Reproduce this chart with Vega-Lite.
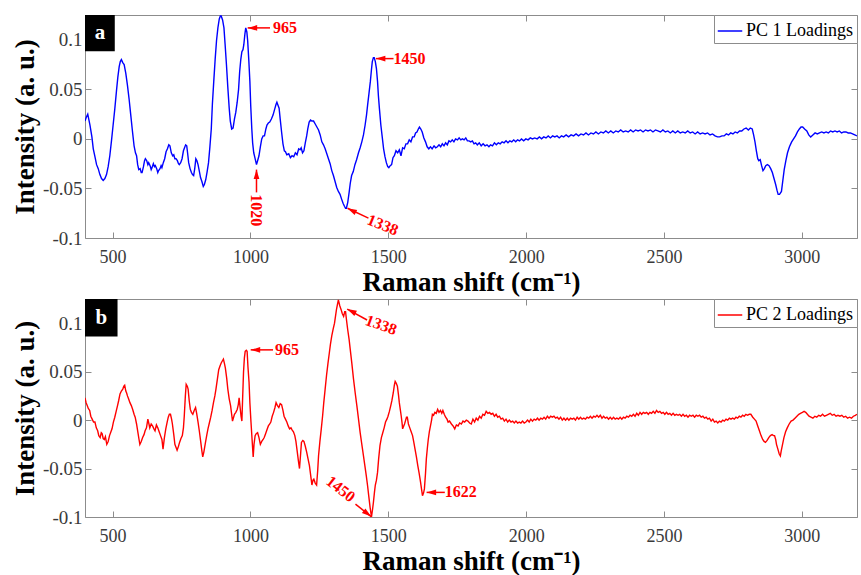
{
"$schema":"https://vega.github.io/schema/vega-lite/v6.json",
"background":"white",
"padding":{"left":10,"top":14,"right":1,"bottom":0},
"spacing":2,
"datasets":{
"pc1":[{"x":400,"y":0.018},{"x":405,"y":0.022},{"x":410,"y":0.025},{"x":418,"y":0.014},{"x":425,"y":0.002},{"x":430,"y":-0.01},{"x":436,"y":-0.018},{"x":442,"y":-0.026},{"x":448,"y":-0.03},{"x":454,"y":-0.036},{"x":460,"y":-0.04},{"x":466,"y":-0.042},{"x":472,"y":-0.04},{"x":478,"y":-0.036},{"x":484,"y":-0.028},{"x":490,"y":-0.017},{"x":496,"y":-0.002},{"x":502,"y":0.014},{"x":508,"y":0.03},{"x":514,"y":0.048},{"x":519,"y":0.062},{"x":524,"y":0.073},{"x":528,"y":0.078},{"x":532,"y":0.08},{"x":537,"y":0.077},{"x":542,"y":0.075},{"x":548,"y":0.066},{"x":554,"y":0.054},{"x":560,"y":0.04},{"x":566,"y":0.024},{"x":572,"y":0.008},{"x":578,"y":-0.007},{"x":583,"y":-0.014},{"x":587,"y":-0.017},{"x":591,"y":-0.026},{"x":595,"y":-0.031},{"x":600,"y":-0.03},{"x":604,"y":-0.034},{"x":607,"y":-0.034},{"x":612,"y":-0.028},{"x":616,"y":-0.022},{"x":619,"y":-0.02},{"x":624,"y":-0.022},{"x":628,"y":-0.026},{"x":631,"y":-0.024},{"x":636,"y":-0.027},{"x":640,"y":-0.031},{"x":643,"y":-0.029},{"x":648,"y":-0.025},{"x":652,"y":-0.028},{"x":655,"y":-0.027},{"x":660,"y":-0.03},{"x":664,"y":-0.034},{"x":667,"y":-0.032},{"x":672,"y":-0.03},{"x":676,"y":-0.027},{"x":679,"y":-0.029},{"x":684,"y":-0.024},{"x":689,"y":-0.02},{"x":694,"y":-0.013},{"x":699,"y":-0.01},{"x":704,"y":-0.006},{"x":708,"y":-0.007},{"x":713,"y":-0.014},{"x":718,"y":-0.017},{"x":722,"y":-0.016},{"x":726,"y":-0.02},{"x":730,"y":-0.02},{"x":735,"y":-0.022},{"x":739,"y":-0.025},{"x":742,"y":-0.026},{"x":747,"y":-0.024},{"x":752,"y":-0.02},{"x":757,"y":-0.012},{"x":761,"y":-0.009},{"x":765,"y":-0.006},{"x":769,"y":-0.007},{"x":772,"y":-0.014},{"x":776,"y":-0.024},{"x":781,"y":-0.03},{"x":786,"y":-0.034},{"x":790,"y":-0.036},{"x":794,"y":-0.037},{"x":798,"y":-0.03},{"x":802,"y":-0.02},{"x":806,"y":-0.022},{"x":810,"y":-0.026},{"x":815,"y":-0.033},{"x":819,"y":-0.039},{"x":824,"y":-0.043},{"x":829,"y":-0.048},{"x":833,"y":-0.046},{"x":838,"y":-0.041},{"x":843,"y":-0.033},{"x":848,"y":-0.024},{"x":853,"y":-0.008},{"x":858,"y":0.01},{"x":862,"y":0.035},{"x":867,"y":0.058},{"x":872,"y":0.08},{"x":877,"y":0.099},{"x":882,"y":0.112},{"x":887,"y":0.121},{"x":891,"y":0.124},{"x":894,"y":0.124},{"x":899,"y":0.12},{"x":904,"y":0.112},{"x":908,"y":0.096},{"x":913,"y":0.075},{"x":918,"y":0.052},{"x":923,"y":0.031},{"x":927,"y":0.018},{"x":932,"y":0.01},{"x":937,"y":0.011},{"x":942,"y":0.02},{"x":947,"y":0.027},{"x":952,"y":0.037},{"x":957,"y":0.05},{"x":961,"y":0.068},{"x":965,"y":0.08},{"x":969,"y":0.088},{"x":973,"y":0.09},{"x":976,"y":0.095},{"x":980,"y":0.106},{"x":983,"y":0.112},{"x":987,"y":0.108},{"x":990,"y":0.099},{"x":994,"y":0.08},{"x":998,"y":0.058},{"x":1001,"y":0.034},{"x":1005,"y":0.01},{"x":1008,"y":-0.004},{"x":1012,"y":-0.014},{"x":1017,"y":-0.02},{"x":1022,"y":-0.026},{"x":1026,"y":-0.022},{"x":1031,"y":-0.017},{"x":1036,"y":-0.008},{"x":1041,"y":0},{"x":1046,"y":0.003},{"x":1051,"y":0.003},{"x":1056,"y":0.01},{"x":1060,"y":0.014},{"x":1065,"y":0.016},{"x":1070,"y":0.017},{"x":1076,"y":0.02},{"x":1082,"y":0.024},{"x":1088,"y":0.03},{"x":1093,"y":0.035},{"x":1096,"y":0.037},{"x":1100,"y":0.034},{"x":1104,"y":0.031},{"x":1108,"y":0.02},{"x":1113,"y":0.007},{"x":1118,"y":-0.005},{"x":1123,"y":-0.012},{"x":1127,"y":-0.013},{"x":1132,"y":-0.016},{"x":1139,"y":-0.015},{"x":1145,"y":-0.019},{"x":1151,"y":-0.017},{"x":1157,"y":-0.018},{"x":1163,"y":-0.014},{"x":1169,"y":-0.016},{"x":1175,"y":-0.01},{"x":1180,"y":-0.011},{"x":1184,"y":-0.009},{"x":1189,"y":-0.014},{"x":1194,"y":-0.012},{"x":1199,"y":-0.004},{"x":1204,"y":0.003},{"x":1208,"y":0.01},{"x":1213,"y":0.017},{"x":1218,"y":0.019},{"x":1223,"y":0.018},{"x":1229,"y":0.018},{"x":1235,"y":0.015},{"x":1241,"y":0.012},{"x":1247,"y":0.009},{"x":1253,"y":0.004},{"x":1259,"y":-0.003},{"x":1265,"y":-0.006},{"x":1271,"y":-0.01},{"x":1277,"y":-0.015},{"x":1283,"y":-0.02},{"x":1289,"y":-0.025},{"x":1295,"y":-0.032},{"x":1301,"y":-0.037},{"x":1307,"y":-0.043},{"x":1313,"y":-0.049},{"x":1319,"y":-0.053},{"x":1325,"y":-0.056},{"x":1331,"y":-0.061},{"x":1336,"y":-0.065},{"x":1341,"y":-0.068},{"x":1345,"y":-0.07},{"x":1348,"y":-0.07},{"x":1353,"y":-0.064},{"x":1358,"y":-0.054},{"x":1362,"y":-0.045},{"x":1367,"y":-0.037},{"x":1373,"y":-0.033},{"x":1379,"y":-0.026},{"x":1385,"y":-0.021},{"x":1392,"y":-0.014},{"x":1398,"y":-0.009},{"x":1404,"y":-0.003},{"x":1410,"y":0.004},{"x":1416,"y":0.014},{"x":1421,"y":0.024},{"x":1425,"y":0.034},{"x":1430,"y":0.046},{"x":1435,"y":0.058},{"x":1439,"y":0.07},{"x":1442,"y":0.078},{"x":1446,"y":0.082},{"x":1449,"y":0.082},{"x":1453,"y":0.078},{"x":1457,"y":0.071},{"x":1461,"y":0.058},{"x":1464,"y":0.044},{"x":1468,"y":0.03},{"x":1473,"y":0.014},{"x":1478,"y":0.002},{"x":1483,"y":-0.01},{"x":1488,"y":-0.018},{"x":1493,"y":-0.024},{"x":1498,"y":-0.028},{"x":1502,"y":-0.029},{"x":1507,"y":-0.027},{"x":1512,"y":-0.026},{"x":1517,"y":-0.019},{"x":1522,"y":-0.017},{"x":1528,"y":-0.012},{"x":1534,"y":-0.014},{"x":1540,"y":-0.011},{"x":1546,"y":-0.017},{"x":1552,"y":-0.009},{"x":1558,"y":-0.01},{"x":1564,"y":-0.005},{"x":1570,"y":-0.005},{"x":1576,"y":-0.001},{"x":1582,"y":-0.003},{"x":1588,"y":0.002},{"x":1594,"y":0.002},{"x":1599,"y":0.006},{"x":1604,"y":0.007},{"x":1609,"y":0.01},{"x":1613,"y":0.012},{"x":1618,"y":0.01},{"x":1623,"y":0.007},{"x":1629,"y":0.001},{"x":1635,"y":-0.003},{"x":1641,"y":-0.008},{"x":1647,"y":-0.01},{"x":1653,"y":-0.008},{"x":1659,"y":-0.01},{"x":1666,"y":-0.007},{"x":1672,"y":-0.009},{"x":1678,"y":-0.008},{"x":1684,"y":-0.006},{"x":1690,"y":-0.008},{"x":1696,"y":-0.005},{"x":1702,"y":-0.007},{"x":1708,"y":-0.004},{"x":1714,"y":-0.006},{"x":1720,"y":-0.002},{"x":1726,"y":-0.003},{"x":1732,"y":-0.001},{"x":1738,"y":-0.003},{"x":1744,"y":0},{"x":1751,"y":-0.001},{"x":1757,"y":0.001},{"x":1763,"y":-0.001},{"x":1769,"y":0},{"x":1775,"y":-0.001},{"x":1781,"y":0.001},{"x":1787,"y":-0.002},{"x":1793,"y":-0.002},{"x":1799,"y":-0.003},{"x":1805,"y":-0.002},{"x":1811,"y":-0.005},{"x":1817,"y":-0.004},{"x":1823,"y":-0.006},{"x":1830,"y":-0.004},{"x":1837,"y":-0.007},{"x":1844,"y":-0.005},{"x":1851,"y":-0.007},{"x":1858,"y":-0.006},{"x":1865,"y":-0.008},{"x":1871,"y":-0.006},{"x":1878,"y":-0.007},{"x":1885,"y":-0.004},{"x":1892,"y":-0.006},{"x":1899,"y":-0.004},{"x":1906,"y":-0.005},{"x":1913,"y":-0.003},{"x":1920,"y":-0.004},{"x":1927,"y":-0.002},{"x":1934,"y":-0.004},{"x":1941,"y":-0.002},{"x":1948,"y":-0.003},{"x":1955,"y":-0.001},{"x":1962,"y":-0.003},{"x":1969,"y":-0.001},{"x":1976,"y":-0.002},{"x":1983,"y":0},{"x":1991,"y":-0.002},{"x":1999,"y":0},{"x":2007,"y":-0.001},{"x":2015,"y":0.001},{"x":2023,"y":0},{"x":2031,"y":0.001},{"x":2040,"y":0},{"x":2048,"y":0.002},{"x":2056,"y":0},{"x":2064,"y":0.002},{"x":2072,"y":0.001},{"x":2080,"y":0.003},{"x":2088,"y":0.001},{"x":2096,"y":0.003},{"x":2104,"y":0.002},{"x":2112,"y":0.003},{"x":2120,"y":0.001},{"x":2128,"y":0.003},{"x":2136,"y":0.002},{"x":2145,"y":0.004},{"x":2154,"y":0.002},{"x":2163,"y":0.004},{"x":2172,"y":0.003},{"x":2181,"y":0.005},{"x":2190,"y":0.003},{"x":2199,"y":0.005},{"x":2208,"y":0.004},{"x":2217,"y":0.006},{"x":2226,"y":0.004},{"x":2235,"y":0.006},{"x":2244,"y":0.005},{"x":2253,"y":0.007},{"x":2262,"y":0.005},{"x":2271,"y":0.007},{"x":2280,"y":0.006},{"x":2289,"y":0.008},{"x":2298,"y":0.006},{"x":2307,"y":0.008},{"x":2316,"y":0.006},{"x":2325,"y":0.008},{"x":2334,"y":0.007},{"x":2343,"y":0.009},{"x":2352,"y":0.007},{"x":2361,"y":0.008},{"x":2370,"y":0.007},{"x":2379,"y":0.009},{"x":2388,"y":0.007},{"x":2397,"y":0.009},{"x":2406,"y":0.008},{"x":2415,"y":0.009},{"x":2424,"y":0.007},{"x":2433,"y":0.009},{"x":2442,"y":0.008},{"x":2451,"y":0.009},{"x":2460,"y":0.007},{"x":2469,"y":0.009},{"x":2478,"y":0.008},{"x":2487,"y":0.007},{"x":2496,"y":0.009},{"x":2505,"y":0.007},{"x":2514,"y":0.008},{"x":2523,"y":0.006},{"x":2532,"y":0.008},{"x":2541,"y":0.006},{"x":2550,"y":0.008},{"x":2559,"y":0.006},{"x":2568,"y":0.007},{"x":2577,"y":0.006},{"x":2586,"y":0.008},{"x":2595,"y":0.006},{"x":2604,"y":0.007},{"x":2613,"y":0.005},{"x":2622,"y":0.007},{"x":2631,"y":0.005},{"x":2640,"y":0.006},{"x":2649,"y":0.005},{"x":2658,"y":0.006},{"x":2667,"y":0.004},{"x":2676,"y":0.005},{"x":2685,"y":0.003},{"x":2694,"y":0.002},{"x":2702,"y":0.002},{"x":2710,"y":0.003},{"x":2718,"y":0.003},{"x":2726,"y":0.005},{"x":2734,"y":0.004},{"x":2742,"y":0.006},{"x":2750,"y":0.005},{"x":2758,"y":0.007},{"x":2766,"y":0.006},{"x":2774,"y":0.008},{"x":2782,"y":0.008},{"x":2790,"y":0.01},{"x":2798,"y":0.011},{"x":2806,"y":0.009},{"x":2813,"y":0.011},{"x":2820,"y":0.01},{"x":2825,"y":0.004},{"x":2830,"y":-0.003},{"x":2835,"y":-0.012},{"x":2840,"y":-0.02},{"x":2844,"y":-0.022},{"x":2849,"y":-0.021},{"x":2854,"y":-0.027},{"x":2859,"y":-0.032},{"x":2864,"y":-0.03},{"x":2869,"y":-0.027},{"x":2875,"y":-0.026},{"x":2881,"y":-0.027},{"x":2887,"y":-0.03},{"x":2893,"y":-0.034},{"x":2899,"y":-0.04},{"x":2905,"y":-0.046},{"x":2910,"y":-0.052},{"x":2914,"y":-0.056},{"x":2919,"y":-0.056},{"x":2926,"y":-0.053},{"x":2931,"y":-0.042},{"x":2936,"y":-0.031},{"x":2942,"y":-0.022},{"x":2948,"y":-0.014},{"x":2955,"y":-0.008},{"x":2963,"y":-0.003},{"x":2970,"y":0},{"x":2977,"y":0.003},{"x":2984,"y":0.007},{"x":2991,"y":0.01},{"x":2997,"y":0.012},{"x":3003,"y":0.012},{"x":3010,"y":0.01},{"x":3018,"y":0.008},{"x":3025,"y":0.004},{"x":3032,"y":0.002},{"x":3040,"y":0.004},{"x":3048,"y":0.006},{"x":3056,"y":0.005},{"x":3064,"y":0.006},{"x":3072,"y":0.007},{"x":3080,"y":0.006},{"x":3088,"y":0.007},{"x":3096,"y":0.006},{"x":3104,"y":0.008},{"x":3112,"y":0.007},{"x":3120,"y":0.008},{"x":3128,"y":0.007},{"x":3136,"y":0.008},{"x":3144,"y":0.006},{"x":3152,"y":0.007},{"x":3160,"y":0.007},{"x":3168,"y":0.006},{"x":3176,"y":0.006},{"x":3184,"y":0.005},{"x":3192,"y":0.004},{"x":3200,"y":0.003}],
"pc2":[{"x":400,"y":0.023},{"x":404,"y":0.018},{"x":408,"y":0.015},{"x":412,"y":0.012},{"x":417,"y":0.01},{"x":421,"y":0.004},{"x":426,"y":0.001},{"x":431,"y":-0.002},{"x":436,"y":-0.002},{"x":441,"y":-0.008},{"x":446,"y":-0.011},{"x":450,"y":-0.016},{"x":455,"y":-0.018},{"x":459,"y":-0.013},{"x":462,"y":-0.014},{"x":466,"y":-0.019},{"x":470,"y":-0.02},{"x":474,"y":-0.017},{"x":479,"y":-0.025},{"x":484,"y":-0.022},{"x":489,"y":-0.016},{"x":494,"y":-0.012},{"x":498,"y":-0.009},{"x":503,"y":-0.002},{"x":508,"y":0.003},{"x":513,"y":0.009},{"x":518,"y":0.015},{"x":522,"y":0.02},{"x":527,"y":0.027},{"x":532,"y":0.03},{"x":537,"y":0.032},{"x":541,"y":0.035},{"x":544,"y":0.036},{"x":548,"y":0.03},{"x":551,"y":0.028},{"x":554,"y":0.025},{"x":558,"y":0.022},{"x":563,"y":0.018},{"x":568,"y":0.015},{"x":573,"y":0.011},{"x":578,"y":0.006},{"x":582,"y":0.003},{"x":587,"y":-0.004},{"x":592,"y":-0.013},{"x":596,"y":-0.02},{"x":599,"y":-0.025},{"x":604,"y":-0.022},{"x":609,"y":-0.018},{"x":614,"y":-0.015},{"x":618,"y":-0.011},{"x":623,"y":-0.008},{"x":628,"y":0.001},{"x":632,"y":-0.004},{"x":635,"y":-0.008},{"x":640,"y":-0.004},{"x":645,"y":-0.006},{"x":650,"y":-0.009},{"x":654,"y":-0.011},{"x":659,"y":-0.005},{"x":664,"y":-0.008},{"x":669,"y":-0.012},{"x":674,"y":-0.016},{"x":679,"y":-0.02},{"x":683,"y":-0.03},{"x":688,"y":-0.018},{"x":693,"y":-0.009},{"x":698,"y":-0.002},{"x":702,"y":0.003},{"x":706,"y":0.006},{"x":710,"y":0.006},{"x":714,"y":0.001},{"x":717,"y":-0.004},{"x":722,"y":-0.015},{"x":726,"y":-0.025},{"x":730,"y":-0.028},{"x":734,"y":-0.031},{"x":739,"y":-0.027},{"x":743,"y":-0.023},{"x":748,"y":-0.019},{"x":753,"y":-0.016},{"x":757,"y":-0.008},{"x":760,"y":0.004},{"x":764,"y":0.025},{"x":767,"y":0.037},{"x":771,"y":0.035},{"x":774,"y":0.032},{"x":778,"y":0.02},{"x":782,"y":0.011},{"x":786,"y":0.008},{"x":791,"y":0.006},{"x":796,"y":0.01},{"x":801,"y":0.013},{"x":805,"y":0.007},{"x":810,"y":-0.002},{"x":815,"y":-0.012},{"x":820,"y":-0.023},{"x":824,"y":-0.032},{"x":827,"y":-0.038},{"x":831,"y":-0.033},{"x":837,"y":-0.023},{"x":842,"y":-0.015},{"x":846,"y":-0.009},{"x":851,"y":-0.003},{"x":856,"y":0.003},{"x":861,"y":0.01},{"x":866,"y":0.018},{"x":871,"y":0.025},{"x":875,"y":0.032},{"x":880,"y":0.042},{"x":885,"y":0.052},{"x":890,"y":0.056},{"x":894,"y":0.059},{"x":898,"y":0.061},{"x":902,"y":0.063},{"x":906,"y":0.058},{"x":909,"y":0.054},{"x":914,"y":0.043},{"x":918,"y":0.032},{"x":923,"y":0.022},{"x":928,"y":0.015},{"x":931,"y":0.008},{"x":935,"y":-0.001},{"x":939,"y":0.003},{"x":942,"y":0.006},{"x":947,"y":0.008},{"x":952,"y":0.011},{"x":956,"y":0.016},{"x":959,"y":0.023},{"x":963,"y":0.012},{"x":966,"y":0.004},{"x":969,"y":-0.001},{"x":972,"y":0.025},{"x":975,"y":0.05},{"x":978,"y":0.064},{"x":981,"y":0.071},{"x":985,"y":0.072},{"x":988,"y":0.071},{"x":991,"y":0.055},{"x":995,"y":0.039},{"x":998,"y":0.018},{"x":1002,"y":-0.002},{"x":1006,"y":-0.02},{"x":1010,"y":-0.038},{"x":1013,"y":-0.025},{"x":1017,"y":-0.016},{"x":1021,"y":-0.014},{"x":1026,"y":-0.013},{"x":1031,"y":-0.018},{"x":1036,"y":-0.025},{"x":1041,"y":-0.022},{"x":1046,"y":-0.02},{"x":1050,"y":-0.018},{"x":1055,"y":-0.014},{"x":1060,"y":-0.01},{"x":1065,"y":-0.006},{"x":1070,"y":-0.004},{"x":1074,"y":-0.002},{"x":1079,"y":0.004},{"x":1084,"y":0.008},{"x":1089,"y":0.013},{"x":1093,"y":0.018},{"x":1098,"y":0.015},{"x":1103,"y":0.013},{"x":1108,"y":0.017},{"x":1113,"y":0.016},{"x":1118,"y":0.01},{"x":1122,"y":0.004},{"x":1127,"y":0.001},{"x":1132,"y":-0.002},{"x":1137,"y":-0.006},{"x":1142,"y":-0.009},{"x":1147,"y":-0.008},{"x":1151,"y":-0.01},{"x":1156,"y":-0.012},{"x":1161,"y":-0.016},{"x":1165,"y":-0.022},{"x":1170,"y":-0.033},{"x":1174,"y":-0.042},{"x":1178,"y":-0.05},{"x":1182,"y":-0.035},{"x":1185,"y":-0.023},{"x":1190,"y":-0.021},{"x":1194,"y":-0.022},{"x":1199,"y":-0.027},{"x":1204,"y":-0.033},{"x":1209,"y":-0.04},{"x":1214,"y":-0.047},{"x":1219,"y":-0.058},{"x":1223,"y":-0.067},{"x":1227,"y":-0.062},{"x":1230,"y":-0.061},{"x":1235,"y":-0.065},{"x":1240,"y":-0.067},{"x":1244,"y":-0.052},{"x":1247,"y":-0.037},{"x":1252,"y":-0.022},{"x":1257,"y":-0.009},{"x":1262,"y":0.005},{"x":1266,"y":0.018},{"x":1271,"y":0.032},{"x":1276,"y":0.046},{"x":1281,"y":0.058},{"x":1286,"y":0.069},{"x":1290,"y":0.078},{"x":1295,"y":0.087},{"x":1300,"y":0.094},{"x":1305,"y":0.1},{"x":1309,"y":0.108},{"x":1312,"y":0.114},{"x":1316,"y":0.12},{"x":1319,"y":0.124},{"x":1324,"y":0.118},{"x":1329,"y":0.114},{"x":1333,"y":0.11},{"x":1338,"y":0.107},{"x":1342,"y":0.112},{"x":1345,"y":0.112},{"x":1349,"y":0.102},{"x":1353,"y":0.093},{"x":1358,"y":0.083},{"x":1362,"y":0.073},{"x":1368,"y":0.058},{"x":1374,"y":0.042},{"x":1380,"y":0.028},{"x":1386,"y":0.015},{"x":1392,"y":0.001},{"x":1398,"y":-0.013},{"x":1404,"y":-0.025},{"x":1410,"y":-0.037},{"x":1415,"y":-0.047},{"x":1420,"y":-0.057},{"x":1425,"y":-0.068},{"x":1429,"y":-0.078},{"x":1434,"y":-0.09},{"x":1439,"y":-0.1},{"x":1443,"y":-0.092},{"x":1446,"y":-0.085},{"x":1450,"y":-0.074},{"x":1453,"y":-0.067},{"x":1457,"y":-0.062},{"x":1461,"y":-0.054},{"x":1465,"y":-0.04},{"x":1470,"y":-0.026},{"x":1475,"y":-0.018},{"x":1480,"y":-0.013},{"x":1485,"y":-0.008},{"x":1490,"y":-0.002},{"x":1495,"y":0.001},{"x":1499,"y":0.004},{"x":1504,"y":0.009},{"x":1509,"y":0.015},{"x":1513,"y":0.02},{"x":1518,"y":0.028},{"x":1522,"y":0.036},{"x":1525,"y":0.04},{"x":1529,"y":0.038},{"x":1533,"y":0.035},{"x":1537,"y":0.026},{"x":1540,"y":0.018},{"x":1544,"y":0.01},{"x":1547,"y":0.004},{"x":1550,"y":-0.003},{"x":1552,"y":-0.009},{"x":1556,"y":-0.006},{"x":1559,"y":-0.004},{"x":1563,"y":0},{"x":1566,"y":0.003},{"x":1569,"y":0.003},{"x":1573,"y":-0.004},{"x":1578,"y":-0.008},{"x":1583,"y":-0.012},{"x":1588,"y":-0.016},{"x":1592,"y":-0.022},{"x":1597,"y":-0.03},{"x":1602,"y":-0.038},{"x":1607,"y":-0.047},{"x":1612,"y":-0.055},{"x":1617,"y":-0.064},{"x":1621,"y":-0.072},{"x":1624,"y":-0.078},{"x":1628,"y":-0.075},{"x":1631,"y":-0.071},{"x":1635,"y":-0.055},{"x":1638,"y":-0.04},{"x":1642,"y":-0.028},{"x":1645,"y":-0.02},{"x":1649,"y":-0.012},{"x":1653,"y":-0.006},{"x":1657,"y":0},{"x":1660,"y":0.006},{"x":1664,"y":0.005},{"x":1669,"y":0.008},{"x":1674,"y":0.007},{"x":1679,"y":0.011},{"x":1684,"y":0.008},{"x":1689,"y":0.01},{"x":1694,"y":0.007},{"x":1698,"y":0.01},{"x":1703,"y":0.006},{"x":1708,"y":0.003},{"x":1713,"y":0.001},{"x":1717,"y":-0.002},{"x":1722,"y":-0.001},{"x":1729,"y":-0.004},{"x":1735,"y":-0.006},{"x":1741,"y":-0.009},{"x":1747,"y":-0.005},{"x":1753,"y":-0.006},{"x":1759,"y":-0.003},{"x":1765,"y":-0.004},{"x":1771,"y":-0.001},{"x":1777,"y":-0.002},{"x":1783,"y":0},{"x":1789,"y":-0.001},{"x":1795,"y":-0.003},{"x":1801,"y":-0.004},{"x":1807,"y":0.001},{"x":1813,"y":-0.002},{"x":1819,"y":0.002},{"x":1825,"y":0},{"x":1831,"y":0.004},{"x":1837,"y":0.002},{"x":1843,"y":0.006},{"x":1849,"y":0.005},{"x":1855,"y":0.009},{"x":1861,"y":0.007},{"x":1867,"y":0.008},{"x":1873,"y":0.006},{"x":1879,"y":0.007},{"x":1885,"y":0.004},{"x":1891,"y":0.006},{"x":1897,"y":0.003},{"x":1903,"y":0.004},{"x":1909,"y":0.001},{"x":1915,"y":0.002},{"x":1921,"y":-0.001},{"x":1927,"y":0.001},{"x":1933,"y":-0.002},{"x":1939,"y":0},{"x":1945,"y":-0.002},{"x":1951,"y":-0.001},{"x":1957,"y":-0.003},{"x":1963,"y":-0.001},{"x":1969,"y":-0.003},{"x":1975,"y":-0.002},{"x":1981,"y":-0.003},{"x":1987,"y":-0.001},{"x":1993,"y":-0.003},{"x":1999,"y":-0.002},{"x":2005,"y":0},{"x":2011,"y":-0.002},{"x":2017,"y":0.001},{"x":2023,"y":-0.001},{"x":2029,"y":0.001},{"x":2035,"y":0},{"x":2041,"y":0.002},{"x":2047,"y":0},{"x":2053,"y":0.002},{"x":2059,"y":0.001},{"x":2065,"y":0.003},{"x":2071,"y":0.001},{"x":2077,"y":0.004},{"x":2083,"y":0.002},{"x":2089,"y":0.004},{"x":2095,"y":0.003},{"x":2101,"y":0.004},{"x":2107,"y":0.002},{"x":2113,"y":0.003},{"x":2119,"y":0.001},{"x":2125,"y":0.003},{"x":2131,"y":0},{"x":2137,"y":0.002},{"x":2143,"y":0},{"x":2149,"y":0.002},{"x":2155,"y":0},{"x":2161,"y":0.002},{"x":2167,"y":0.001},{"x":2173,"y":0.002},{"x":2179,"y":0},{"x":2185,"y":0.003},{"x":2191,"y":0.001},{"x":2197,"y":0.003},{"x":2203,"y":0.001},{"x":2209,"y":0.002},{"x":2215,"y":0.001},{"x":2221,"y":0.003},{"x":2227,"y":0.002},{"x":2233,"y":0.004},{"x":2239,"y":0.002},{"x":2245,"y":0.004},{"x":2251,"y":0.003},{"x":2257,"y":0.005},{"x":2263,"y":0.003},{"x":2269,"y":0.005},{"x":2275,"y":0.002},{"x":2281,"y":0.004},{"x":2287,"y":0.002},{"x":2293,"y":0.003},{"x":2299,"y":0.001},{"x":2305,"y":0.003},{"x":2311,"y":0.001},{"x":2317,"y":0.003},{"x":2323,"y":0.001},{"x":2329,"y":0.002},{"x":2335,"y":0.001},{"x":2341,"y":0.003},{"x":2347,"y":0.001},{"x":2353,"y":0.003},{"x":2359,"y":0.002},{"x":2365,"y":0.004},{"x":2371,"y":0.003},{"x":2377,"y":0.005},{"x":2383,"y":0.004},{"x":2389,"y":0.006},{"x":2395,"y":0.004},{"x":2401,"y":0.007},{"x":2407,"y":0.005},{"x":2413,"y":0.008},{"x":2419,"y":0.006},{"x":2425,"y":0.008},{"x":2431,"y":0.007},{"x":2437,"y":0.008},{"x":2443,"y":0.006},{"x":2449,"y":0.008},{"x":2455,"y":0.007},{"x":2461,"y":0.009},{"x":2467,"y":0.007},{"x":2473,"y":0.01},{"x":2479,"y":0.008},{"x":2485,"y":0.009},{"x":2491,"y":0.007},{"x":2497,"y":0.008},{"x":2503,"y":0.006},{"x":2509,"y":0.008},{"x":2515,"y":0.006},{"x":2521,"y":0.007},{"x":2527,"y":0.005},{"x":2533,"y":0.007},{"x":2539,"y":0.005},{"x":2545,"y":0.006},{"x":2551,"y":0.005},{"x":2557,"y":0.006},{"x":2563,"y":0.004},{"x":2569,"y":0.006},{"x":2575,"y":0.004},{"x":2581,"y":0.005},{"x":2587,"y":0.003},{"x":2593,"y":0.005},{"x":2599,"y":0.004},{"x":2605,"y":0.005},{"x":2611,"y":0.003},{"x":2617,"y":0.005},{"x":2623,"y":0.004},{"x":2629,"y":0.005},{"x":2635,"y":0.003},{"x":2641,"y":0.004},{"x":2647,"y":0.002},{"x":2653,"y":0.003},{"x":2659,"y":0.001},{"x":2665,"y":0.002},{"x":2671,"y":-0.001},{"x":2677,"y":0.001},{"x":2683,"y":-0.002},{"x":2689,"y":-0.001},{"x":2695,"y":-0.003},{"x":2701,"y":-0.001},{"x":2707,"y":-0.002},{"x":2713,"y":0},{"x":2719,"y":-0.001},{"x":2725,"y":0.001},{"x":2731,"y":0},{"x":2737,"y":0.002},{"x":2743,"y":0.001},{"x":2749,"y":0.002},{"x":2755,"y":0.001},{"x":2761,"y":0.003},{"x":2767,"y":0.002},{"x":2773,"y":0.004},{"x":2779,"y":0.003},{"x":2785,"y":0.005},{"x":2791,"y":0.004},{"x":2797,"y":0.006},{"x":2803,"y":0.005},{"x":2809,"y":0.006},{"x":2815,"y":0.006},{"x":2822,"y":0.003},{"x":2828,"y":0.001},{"x":2834,"y":-0.001},{"x":2840,"y":-0.006},{"x":2846,"y":-0.011},{"x":2852,"y":-0.016},{"x":2858,"y":-0.02},{"x":2863,"y":-0.022},{"x":2868,"y":-0.023},{"x":2874,"y":-0.021},{"x":2880,"y":-0.018},{"x":2886,"y":-0.016},{"x":2892,"y":-0.015},{"x":2897,"y":-0.016},{"x":2901,"y":-0.016},{"x":2905,"y":-0.02},{"x":2908,"y":-0.025},{"x":2913,"y":-0.03},{"x":2918,"y":-0.035},{"x":2922,"y":-0.037},{"x":2925,"y":-0.032},{"x":2930,"y":-0.025},{"x":2935,"y":-0.018},{"x":2941,"y":-0.012},{"x":2947,"y":-0.008},{"x":2954,"y":-0.004},{"x":2961,"y":-0.001},{"x":2968,"y":0},{"x":2975,"y":0.002},{"x":2982,"y":0.004},{"x":2989,"y":0.006},{"x":2995,"y":0.007},{"x":3002,"y":0.008},{"x":3008,"y":0.009},{"x":3014,"y":0.008},{"x":3020,"y":0.006},{"x":3026,"y":0.004},{"x":3033,"y":0.003},{"x":3040,"y":0.002},{"x":3047,"y":0.004},{"x":3054,"y":0.003},{"x":3061,"y":0.005},{"x":3068,"y":0.004},{"x":3075,"y":0.006},{"x":3082,"y":0.004},{"x":3089,"y":0.005},{"x":3096,"y":0.006},{"x":3103,"y":0.007},{"x":3110,"y":0.005},{"x":3117,"y":0.006},{"x":3124,"y":0.004},{"x":3131,"y":0.005},{"x":3138,"y":0.004},{"x":3145,"y":0.005},{"x":3152,"y":0.003},{"x":3159,"y":0.004},{"x":3166,"y":0.002},{"x":3173,"y":0.003},{"x":3180,"y":0.002},{"x":3187,"y":0.004},{"x":3194,"y":0.005},{"x":3200,"y":0.006}],
"ann":[
{"p":"a","t":"965","hx":990,"hy":0.112,"tx":1071,"ty":0.112,"lx":1125,"ly":0.112,"d":"l","r":"h"},
{"p":"a","t":"1450","hx":1455,"hy":0.081,"tx":1519,"ty":0.081,"lx":1577,"ly":0.081,"d":"l","r":"h"},
{"p":"a","t":"1020","hx":1022,"hy":-0.031,"tx":1022,"ty":-0.054,"lx":1022,"ly":-0.072,"d":"u","r":"v"},
{"p":"a","t":"1338","hx":1352,"hy":-0.07,"tx":1428,"ty":-0.08,"lx":1480,"ly":-0.087,"d":"ul","r":"s"},
{"p":"b","t":"965","hx":1001,"hy":0.0725,"tx":1082,"ty":0.0725,"lx":1133,"ly":0.0725,"d":"l","r":"h"},
{"p":"b","t":"1338","hx":1351,"hy":0.1146,"tx":1423,"ty":0.1033,"lx":1474,"ly":0.098,"d":"ul","r":"s"},
{"p":"b","t":"1450","hx":1438,"hy":-0.0996,"tx":1381,"ty":-0.0867,"lx":1327,"ly":-0.0712,"d":"dr","r":"s2"},
{"p":"b","t":"1622","hx":1639,"hy":-0.0746,"tx":1705,"ty":-0.0746,"lx":1763,"ly":-0.0746,"d":"l","r":"h"}],
"lab":[{"p":"a","x0":400,"x1":508,"y0":0.0885,"y1":0.125,"xc":454,"yc":0.1068,"t":"a"},{"p":"b","x0":400,"x1":518,"y0":0.0862,"y1":0.125,"xc":459,"yc":0.1056,"t":"b"}]
},
"vconcat":[
{"width":772,"height":223,
"layer":[
{"data":{"name":"pc1"},"mark":{"type":"line","strokeWidth":1.4,"clip":true},
"encoding":{"x":{"field":"x","type":"quantitative","scale":{"domain":[400,3200],"nice":false,"zero":false},"axis":{"values":[500,1000,1500,2000,2500,3000],"format":"d","labelPadding":16,"labelFlush":false,"title":"Raman shift (cm⁻¹)","titlePadding":3}},
"y":{"field":"y","type":"quantitative","scale":{"domain":[-0.1,0.125],"nice":false,"zero":false},"axis":{"values":[-0.1,-0.05,0,0.05,0.1],"labelExpr":"'' + datum.value","labelPadding":9,"title":"Intensity (a. u.)","titlePadding":3}},
"color":{"datum":"PC 1 Loadings","type":"nominal","scale":{"range":["#0000ff"]},"legend":{"title":null}}}},
{"data":{"name":"ann"},"transform":[{"filter":"datum.p == 'a'"}],"mark":{"type":"rule","color":"#ff0000","strokeWidth":1.5},
"encoding":{"x":{"field":"tx","type":"quantitative","axis":{"orient":"top","values":[500,1000,1500,2000,2500,3000],"labels":false,"title":null}},"x2":{"field":"hx"},
"y":{"field":"ty","type":"quantitative","axis":{"orient":"right","values":[-0.1,-0.05,0,0.05,0.1],"labels":false,"title":null}},"y2":{"field":"hy"}}},
{"data":{"name":"ann"},"transform":[{"filter":"datum.p == 'a'"}],"mark":{"type":"point","filled":true,"color":"#ff0000","opacity":1,"size":90,"strokeWidth":0},
"encoding":{"x":{"field":"hx","type":"quantitative","axis":null},"y":{"field":"hy","type":"quantitative","axis":null},
"shape":{"field":"d","type":"nominal","scale":{"domain":["l","u","ul","dr"],"range":["M0,0L2,-0.6L2,0.6Z","M0,0L-0.6,2L0.6,2Z","M0,0L2.05,0.37L1.51,1.44Z","M0,0L-1.95,-0.76L-1.21,-1.7Z"]},"legend":null}}},
{"data":{"name":"ann"},"transform":[{"filter":"datum.p == 'a' && datum.r == 'h'"}],"mark":{"type":"text","color":"#ff0000","font":"Liberation Serif","fontWeight":"bold","fontSize":16,"align":"center","baseline":"middle"},
"encoding":{"x":{"field":"lx","type":"quantitative","axis":null},"y":{"field":"ly","type":"quantitative","axis":null},"text":{"field":"t"}}},
{"data":{"name":"ann"},"transform":[{"filter":"datum.p == 'a' && datum.r == 'v'"}],"mark":{"type":"text","color":"#ff0000","font":"Liberation Serif","fontWeight":"bold","fontSize":16,"align":"center","baseline":"middle","angle":90},
"encoding":{"x":{"field":"lx","type":"quantitative","axis":null},"y":{"field":"ly","type":"quantitative","axis":null},"text":{"field":"t"}}},
{"data":{"name":"ann"},"transform":[{"filter":"datum.p == 'a' && datum.r == 's'"}],"mark":{"type":"text","color":"#ff0000","font":"Liberation Serif","fontWeight":"bold","fontSize":16,"align":"center","baseline":"middle","angle":22},
"encoding":{"x":{"field":"lx","type":"quantitative","axis":null},"y":{"field":"ly","type":"quantitative","axis":null},"text":{"field":"t"}}},
{"data":{"name":"lab"},"transform":[{"filter":"datum.p == 'a'"}],"mark":{"type":"rect","color":"#000000"},
"encoding":{"x":{"field":"x0","type":"quantitative","axis":null},"x2":{"field":"x1"},"y":{"field":"y0","type":"quantitative","axis":null},"y2":{"field":"y1"}}},
{"data":{"name":"lab"},"transform":[{"filter":"datum.p == 'a'"}],"mark":{"type":"text","color":"#ffffff","font":"Liberation Serif","fontWeight":"bold","fontSize":21,"align":"center","baseline":"middle"},
"encoding":{"x":{"field":"xc","type":"quantitative","axis":null},"y":{"field":"yc","type":"quantitative","axis":null},"text":{"field":"t"}}}
],
"resolve":{"axis":{"x":"independent","y":"independent"}}},
{"width":772,"height":218,
"layer":[
{"data":{"name":"pc2"},"mark":{"type":"line","strokeWidth":1.4,"clip":true},
"encoding":{"x":{"field":"x","type":"quantitative","scale":{"domain":[400,3200],"nice":false,"zero":false},"axis":{"values":[500,1000,1500,2000,2500,3000],"format":"d","labelPadding":16,"labelFlush":false,"title":"Raman shift (cm⁻¹)","titlePadding":3}},
"y":{"field":"y","type":"quantitative","scale":{"domain":[-0.1,0.125],"nice":false,"zero":false},"axis":{"values":[-0.1,-0.05,0,0.05,0.1],"labelExpr":"'' + datum.value","labelPadding":9,"title":"Intensity (a. u.)","titlePadding":3}},
"color":{"datum":"PC 2 Loadings","type":"nominal","scale":{"range":["#ff0000"]},"legend":{"title":null}}}},
{"data":{"name":"ann"},"transform":[{"filter":"datum.p == 'b'"}],"mark":{"type":"rule","color":"#ff0000","strokeWidth":1.5},
"encoding":{"x":{"field":"tx","type":"quantitative","axis":{"orient":"top","values":[500,1000,1500,2000,2500,3000],"labels":false,"title":null}},"x2":{"field":"hx"},
"y":{"field":"ty","type":"quantitative","axis":{"orient":"right","values":[-0.1,-0.05,0,0.05,0.1],"labels":false,"title":null}},"y2":{"field":"hy"}}},
{"data":{"name":"ann"},"transform":[{"filter":"datum.p == 'b'"}],"mark":{"type":"point","filled":true,"color":"#ff0000","opacity":1,"size":90,"strokeWidth":0},
"encoding":{"x":{"field":"hx","type":"quantitative","axis":null},"y":{"field":"hy","type":"quantitative","axis":null},
"shape":{"field":"d","type":"nominal","scale":{"domain":["l","u","ul","dr"],"range":["M0,0L2,-0.6L2,0.6Z","M0,0L-0.6,2L0.6,2Z","M0,0L2.05,0.37L1.51,1.44Z","M0,0L-1.95,-0.76L-1.21,-1.7Z"]},"legend":null}}},
{"data":{"name":"ann"},"transform":[{"filter":"datum.p == 'b' && datum.r == 'h'"}],"mark":{"type":"text","color":"#ff0000","font":"Liberation Serif","fontWeight":"bold","fontSize":16,"align":"center","baseline":"middle"},
"encoding":{"x":{"field":"lx","type":"quantitative","axis":null},"y":{"field":"ly","type":"quantitative","axis":null},"text":{"field":"t"}}},
{"data":{"name":"ann"},"transform":[{"filter":"datum.p == 'b' && datum.r == 's'"}],"mark":{"type":"text","color":"#ff0000","font":"Liberation Serif","fontWeight":"bold","fontSize":16,"align":"center","baseline":"middle","angle":20},
"encoding":{"x":{"field":"lx","type":"quantitative","axis":null},"y":{"field":"ly","type":"quantitative","axis":null},"text":{"field":"t"}}},
{"data":{"name":"ann"},"transform":[{"filter":"datum.p == 'b' && datum.r == 's2'"}],"mark":{"type":"text","color":"#ff0000","font":"Liberation Serif","fontWeight":"bold","fontSize":16,"align":"center","baseline":"middle","angle":38},
"encoding":{"x":{"field":"lx","type":"quantitative","axis":null},"y":{"field":"ly","type":"quantitative","axis":null},"text":{"field":"t"}}},
{"data":{"name":"lab"},"transform":[{"filter":"datum.p == 'b'"}],"mark":{"type":"rect","color":"#000000"},
"encoding":{"x":{"field":"x0","type":"quantitative","axis":null},"x2":{"field":"x1"},"y":{"field":"y0","type":"quantitative","axis":null},"y2":{"field":"y1"}}},
{"data":{"name":"lab"},"transform":[{"filter":"datum.p == 'b'"}],"mark":{"type":"text","color":"#ffffff","font":"Liberation Serif","fontWeight":"bold","fontSize":21,"align":"center","baseline":"middle"},
"encoding":{"x":{"field":"xc","type":"quantitative","axis":null},"y":{"field":"yc","type":"quantitative","axis":null},"text":{"field":"t"}}}
],
"resolve":{"axis":{"x":"independent","y":"independent"}}}
],
"resolve":{"scale":{"x":"independent","y":"independent","color":"independent","shape":"independent"},"legend":{"color":"independent"}},
"config":{
"font":"Liberation Serif",
"view":{"stroke":"#8c8c8c","strokeWidth":1},
"axis":{"grid":false,"domain":false,"tickColor":"#8c8c8c","tickSize":-6,"tickWidth":1,"labelFont":"Liberation Serif","labelFontSize":18,"labelColor":"#3a3a3a","titleFont":"Liberation Serif","titleFontSize":27,"titleFontWeight":"bold","titleColor":"#000000"},
"axisY":{"labelFontSize":19},
"legend":{"orient":"top-right","offset":0,"padding":3,"strokeColor":"#8c8c8c","fillColor":"#ffffff","labelFont":"Liberation Serif","labelFontSize":18,"labelColor":"#000000","symbolType":"stroke","symbolStrokeWidth":1.5,"symbolSize":600,"labelOffset":3,"cornerRadius":0}
}
}
